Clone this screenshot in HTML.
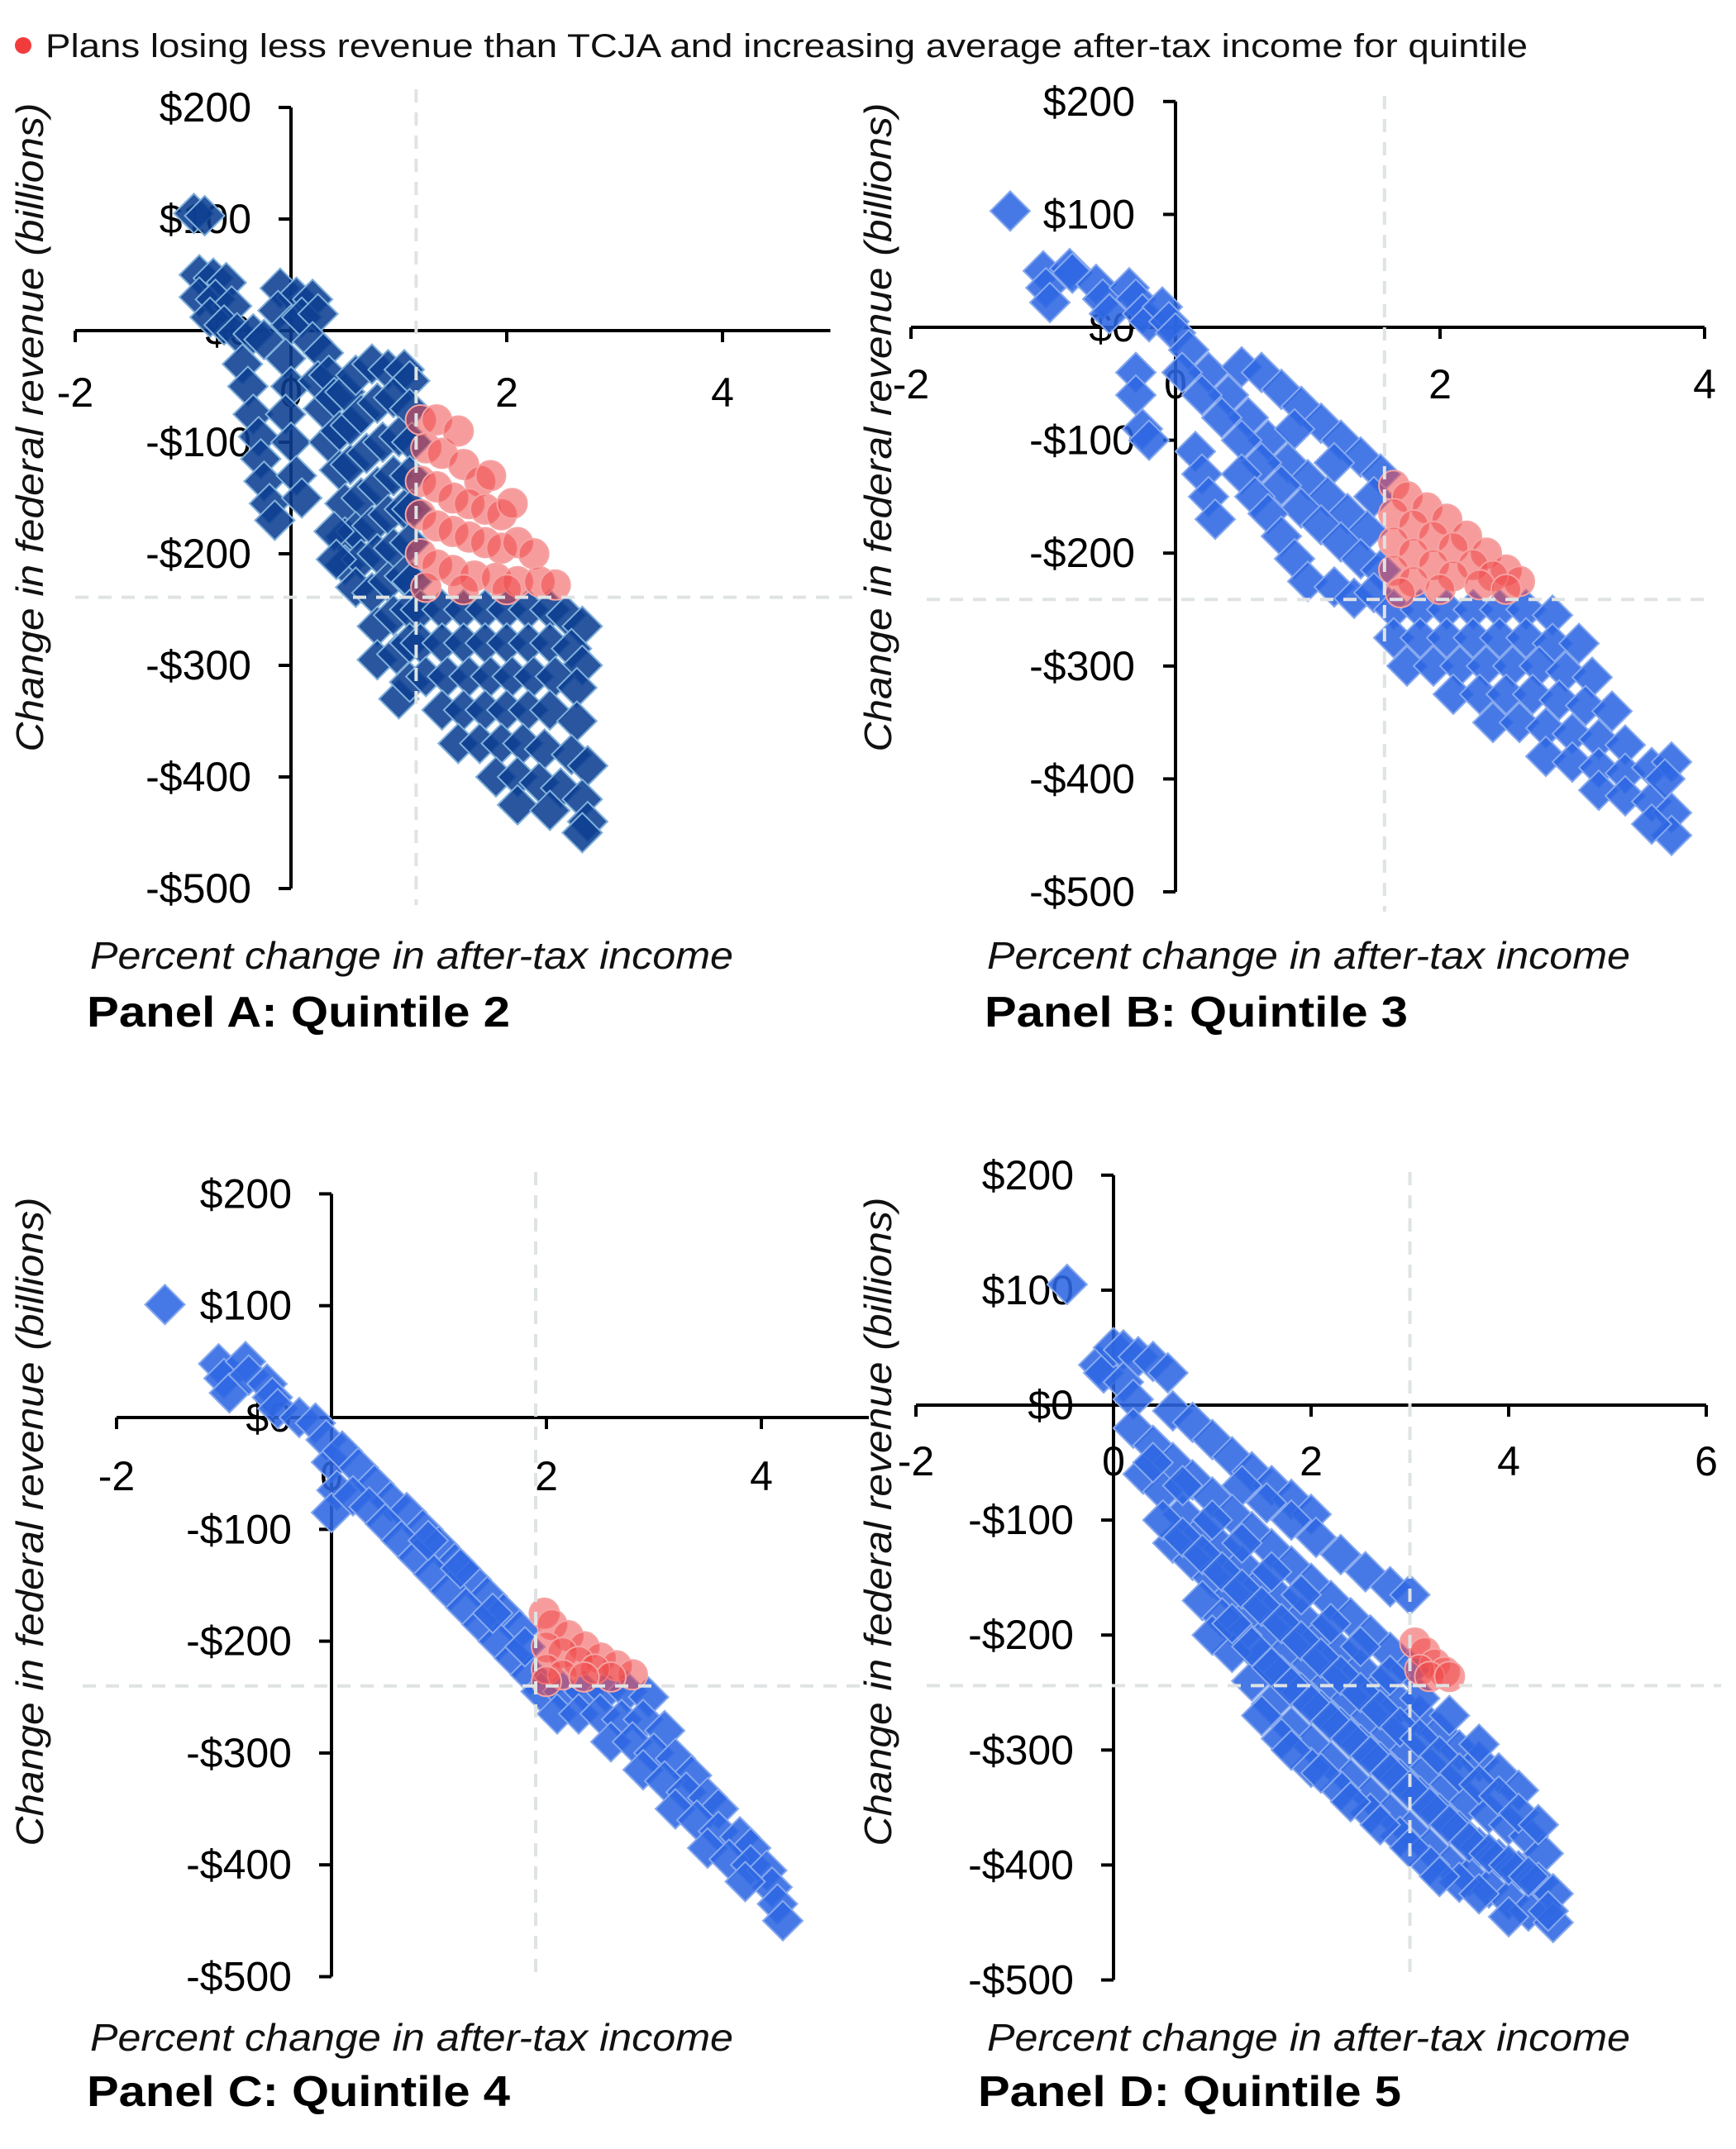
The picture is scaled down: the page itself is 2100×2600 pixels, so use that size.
<!DOCTYPE html>
<html><head><meta charset="utf-8"><style>
html,body{margin:0;padding:0;background:#fff;}
svg{display:block;font-family:"Liberation Sans",sans-serif;}
</style></head><body>
<svg id="chart" width="2100" height="2600" viewBox="0 0 2100 2600" xmlns="http://www.w3.org/2000/svg">
<g>
<circle cx="28" cy="55" r="10" fill="#f23c3c"/>
<text x="55" y="69" font-size="40" fill="#111" textLength="1793" lengthAdjust="spacingAndGlyphs">Plans losing less revenue than TCJA and increasing average after-tax income for quintile</text>
</g>
</svg>
<script>
// ---- data (x = % change in after-tax income, y = change in revenue, $B) ----
const yTicks = [200,100,0,-100,-200,-300,-400,-500];
const yTickLabels = ["$200","$100","$0","-$100","-$200","-$300","-$400","-$500"];
const xTicksA = [-2,0,2,4];
const xTicksB = [-2,0,2,4];
const xTicksC = [-2,0,2,4];
const xTicksD = [-2,0,2,4,6];
const thresholdX = [1.16, 1.58, 1.9, 3.0];
const thresholdY = [-239, -241, -240, -244];

const blueA = [[-0.9,105],[-0.8,103],[-0.85,50],[-0.72,47],[-0.6,43],[-0.85,30],[-0.7,28],[-0.55,22],[-0.75,12],[-0.62,5],[-0.5,-2],[-0.35,-3],[-0.25,-8],
[-0.1,38],[0.05,30],[0.2,28],[-0.12,18],[0,5],[0.1,12],[0.25,15],
[-0.45,-30],[-0.4,-50],[-0.35,-75],[-0.3,-95],[-0.28,-115],[-0.25,-135],[-0.2,-155],[-0.15,-170],
[-0.05,-25],[0,-50],[-0.05,-75],[0,-100],[0.05,-130],[0.1,-150],
[0.2,-10],[0.3,-20],[0.25,-45],[0.35,-40],[0.3,-70],[0.4,-60],[0.5,-55],[0.6,-40],[0.75,-30],[0.9,-35],[1.05,-35],[1.1,-45],
[0.35,-100],[0.45,-90],[0.55,-85],[0.65,-75],[0.8,-65],[0.95,-60],[1.1,-70],
[0.45,-125],[0.55,-120],[0.7,-110],[0.85,-100],[1.0,-95],[1.12,-100],
[0.5,-155],[0.65,-150],[0.8,-140],[0.95,-130],[1.1,-130],
[0.5,-185],[0.6,-180],[0.75,-175],[0.9,-165],[1.05,-160],[1.12,-160],
[0.5,-210],[0.65,-205],[0.8,-200],[0.95,-195],[1.1,-190],
[0.6,-230],[0.75,-235],[0.9,-225],[1.05,-220],[1.12,-225],
[0.8,-265],[0.95,-255],[1.1,-250],[0.8,-295],[0.98,-290],[1.1,-280],[1.0,-330],[1.1,-315],[0.4,-180],[0.42,-205],
[1.2,-250],[1.4,-250],[1.6,-250],[1.8,-250],[2.0,-250],[2.2,-250],[2.4,-250],[2.55,-255],[2.7,-265],
[1.2,-280],[1.4,-280],[1.6,-280],[1.8,-280],[2.0,-280],[2.2,-280],[2.4,-280],[2.6,-285],[2.7,-300],
[1.25,-310],[1.45,-310],[1.65,-310],[1.85,-310],[2.05,-310],[2.25,-310],[2.45,-310],[2.65,-320],
[1.4,-340],[1.6,-340],[1.8,-340],[2.0,-340],[2.2,-340],[2.4,-340],[2.65,-350],
[1.55,-370],[1.75,-370],[1.95,-370],[2.15,-370],[2.35,-375],[2.6,-380],[2.75,-390],
[1.9,-400],[2.1,-400],[2.3,-405],[2.5,-410],[2.7,-420],[2.1,-425],[2.4,-430],[2.75,-440],[2.7,-450]];
const redA = [[1.2,-80],[1.35,-80],[1.25,-105],[1.4,-110],[1.55,-90],[1.6,-120],[1.75,-135],[1.85,-130],[1.2,-135],[1.35,-140],[1.5,-150],[1.65,-155],[1.8,-160],[1.95,-165],[2.05,-155],[1.2,-165],[1.35,-175],[1.5,-180],[1.65,-185],[1.8,-190],[1.95,-195],[2.1,-190],[2.25,-200],[1.2,-200],[1.35,-210],[1.5,-215],[1.7,-220],[1.9,-222],[2.1,-225],[2.3,-225],[2.45,-228],[1.25,-230],[1.6,-232],[2.0,-232]];

const blueB = [[-1.25,103],[-1.0,50],[-0.98,35],[-0.95,22],[-0.8,52],[-0.78,48],[-0.6,38],[-0.55,25],[-0.5,12],[-0.35,35],[-0.3,25],[-0.25,12],[-0.2,5],[-0.1,18],[-0.05,5],[0,-5],[-0.3,-40],[-0.3,-60],[-0.25,-90],[-0.2,-100],
[0.1,-20],[0.25,-40],[0.4,-60],[0.55,-80],[0.7,-100],[0.85,-120],[1.0,-135],[1.15,-150],[1.3,-165],[1.45,-180],
[0.05,-40],[0.2,-60],[0.35,-80],[0.5,-100],[0.65,-120],[0.8,-140],[0.95,-160],[1.1,-175],[1.25,-190],[1.4,-205],[1.55,-215],
[0.15,-110],[0.2,-130],[0.25,-150],[0.3,-170],
[0.5,-130],[0.6,-150],[0.7,-165],[0.8,-185],[0.9,-205],[1.0,-225],[1.2,-230],[1.35,-240],[1.5,-235],
[0.5,-35],[0.65,-40],[0.8,-55],[0.95,-70],[1.1,-85],[1.25,-100],[1.4,-115],[1.55,-130],[1.5,-150],[1.2,-120],[0.9,-90],
[1.65,-250],[1.85,-250],[2.05,-250],[2.25,-250],[2.45,-250],[2.65,-250],[2.85,-255],
[1.65,-275],[1.85,-275],[2.05,-275],[2.25,-275],[2.45,-275],[2.65,-275],[2.85,-280],[3.05,-280],
[1.75,-300],[1.95,-300],[2.15,-300],[2.35,-300],[2.55,-300],[2.75,-300],[2.95,-305],[3.15,-310],
[2.1,-325],[2.3,-325],[2.5,-325],[2.7,-325],[2.9,-330],[3.1,-335],[3.3,-340],
[2.4,-350],[2.6,-350],[2.8,-355],[3.0,-360],[3.2,-365],[3.4,-370],
[2.8,-380],[3.0,-385],[3.2,-390],[3.4,-395],[3.6,-390],[3.75,-385],
[3.2,-410],[3.4,-415],[3.6,-420],[3.75,-430],[3.75,-450],[3.6,-440],[3.7,-400]];
const redB = [[1.65,-140],[1.75,-150],[1.9,-160],[2.05,-170],[2.2,-185],[2.35,-200],[2.5,-215],[2.6,-225],[1.65,-165],[1.8,-175],[1.95,-185],[2.1,-195],[2.25,-210],[2.4,-220],[1.65,-190],[1.8,-200],[1.95,-210],[2.1,-220],[2.3,-228],[1.65,-215],[1.8,-225],[2.0,-232],[2.5,-232],[1.7,-235]];

const blueC = [[-1.55,101],[-1.05,48],[-1.0,35],[-0.95,22],[-0.8,50],[-0.77,38],[-0.6,30],[-0.55,18],[-0.5,8],[-0.3,0],[-0.15,-5],[-0.05,-20],[0,-40],[0.05,-65],[0,-85],
[0.1,-30],[0.25,-45],[0.4,-60],[0.55,-75],[0.7,-85],[0.85,-100],[1.0,-115],[1.15,-130],[1.3,-145],[1.45,-160],[1.6,-175],[1.75,-190],
[0.2,-70],[0.35,-80],[0.5,-95],[0.65,-110],[0.8,-125],[0.95,-140],[1.1,-155],[1.25,-170],[1.4,-185],[1.55,-200],[1.7,-215],[1.85,-230],
[0.9,-110],[1.2,-135],[1.5,-175],[1.8,-205],
[1.95,-245],[2.15,-245],[2.35,-245],[2.55,-245],[2.75,-245],[2.95,-250],
[2.1,-265],[2.3,-265],[2.5,-265],[2.7,-270],[2.9,-270],[3.1,-280],
[2.6,-290],[2.8,-290],[3.0,-300],[3.2,-305],[3.35,-320],
[2.9,-315],[3.1,-325],[3.3,-335],[3.5,-340],[3.6,-350],
[3.2,-350],[3.4,-360],[3.6,-370],[3.8,-375],[3.9,-385],
[3.5,-385],[3.7,-395],[3.9,-400],[4.05,-405],[4.1,-420],[3.85,-415],[4.15,-435],[4.2,-450]];
const redC = [[1.98,-175],[2.05,-185],[2.2,-195],[2.35,-205],[2.5,-215],[2.65,-222],[2.8,-230],[2.0,-205],[2.15,-210],[2.3,-218],[2.45,-225],[2.0,-225],[2.15,-230],[2.6,-232],[2.35,-232],[2.0,-236]];

const blueD = [[-0.47,105],[-0.15,35],[-0.1,28],[0,50],[0.1,48],[0.25,42],[0.4,38],[0.55,28],[0.1,20],[0.2,5],
[0.6,-5],[0.8,-15],[1.0,-30],[1.2,-45],[1.4,-58],[1.6,-70],[1.8,-82],[2.0,-95],
[1.3,-70],[1.55,-85],[1.8,-100],[2.05,-115],[2.3,-130],[2.55,-145],[2.8,-158],[3.0,-165],
[0.2,-20],[0.4,-35],[0.6,-50],[0.8,-65],[1.0,-80],[1.2,-95],[1.4,-110],[1.6,-125],[1.8,-140],[2.0,-155],[2.2,-170],[2.4,-185],[2.6,-200],[2.8,-215],[3.0,-230],
[0.3,-60],[0.5,-75],[0.7,-95],[0.9,-110],[1.1,-125],[1.3,-140],[1.5,-155],[1.7,-170],[1.9,-185],[2.1,-200],[2.3,-215],[2.5,-230],[2.7,-245],[2.9,-260],[3.1,-270],[3.3,-285],[3.5,-300],[3.7,-310],[3.9,-320],[4.1,-335],
[0.6,-120],[0.8,-135],[1.0,-150],[1.2,-165],[1.4,-180],[1.6,-195],[1.8,-210],[2.0,-225],[2.2,-240],[2.4,-255],[2.6,-270],[2.8,-285],[3.0,-300],[3.2,-315],[3.4,-330],[3.6,-345],[3.8,-355],[4.0,-365],[4.2,-375],[4.35,-390],
[0.9,-170],[1.1,-185],[1.3,-200],[1.5,-220],[1.7,-235],[1.9,-250],[2.1,-265],[2.3,-280],[2.5,-295],[2.7,-310],[2.9,-325],[3.1,-340],[3.3,-355],[3.5,-370],[3.7,-385],[3.9,-395],[4.1,-405],[4.3,-415],[4.45,-425],
[1.2,-215],[1.4,-240],[1.6,-260],[1.8,-280],[2.0,-295],[2.2,-310],[2.4,-325],[2.6,-340],[2.8,-355],[3.0,-370],[3.2,-385],[3.4,-400],[3.6,-410],[3.8,-420],[4.0,-430],[4.2,-440],[4.45,-450],
[1.7,-290],[2.0,-315],[2.3,-335],[2.6,-355],[2.9,-375],[3.2,-400],[3.5,-415],
[0.5,-100],[0.7,-115],[0.9,-130],[1.1,-145],[1.3,-160],[1.5,-175],[1.7,-190],[1.9,-205],[2.1,-220],[2.3,-235],[2.5,-250],[2.7,-265],[2.9,-280],[3.1,-290],[3.3,-305],[3.5,-320],[3.7,-330],[3.9,-340],[4.1,-355],[4.3,-365],
[1.0,-200],[1.2,-190],[1.4,-210],[1.6,-228],[1.8,-245],[2.0,-260],[2.2,-275],[2.4,-290],[2.6,-305],[2.8,-320],[3.0,-335],[3.2,-350],[3.4,-365],[3.6,-380],[3.8,-390],[4.0,-400],[4.2,-410],[4.4,-440],
[1.5,-270],[1.8,-300],[2.1,-320],[2.4,-345],[2.7,-365],[3.0,-385],[3.3,-410],[3.7,-425],[4.0,-445],
[0.4,-50],[0.7,-70],[1.0,-100],[1.3,-120],[1.6,-145],[1.9,-165],[2.2,-190],[2.5,-210],[2.8,-235],[3.1,-255],[3.4,-270],[3.7,-295]];
const redD = [[3.05,-207],[3.15,-215],[3.25,-225],[3.35,-232],[3.1,-230],[3.2,-236],[3.4,-236]];

const panelTitles = ["Panel A: Quintile 2","Panel B: Quintile 3","Panel C: Quintile 4","Panel D: Quintile 5"];

// ---- layout ----
const NS = "http://www.w3.org/2000/svg";
const svg = document.getElementById('chart');
function mk(tag, attrs, parent){ const e=document.createElementNS(NS,tag); for(const k in attrs) e.setAttribute(k,attrs[k]); (parent||svg).appendChild(e); return e; }

const panels = [
 {ox:352, oy:400, xu:130.5, yu:1.35, xmin:-2, xmax:5.0, ticks:xTicksA, labR:304, xlabY:492, ytX:36, ytY:517, xtX:109, xtY:1172, ttY:1242, ttX:105, blue:blueA, red:redA, fill:"#0c3f92", stroke:"#7fb0da", dash:[108,1095,91,1037]},
 {ox:1422, oy:396, xu:160, yu:1.366, xmin:-2, xmax:4.0, ticks:xTicksB, labR:1373, xlabY:482, ytX:1062, ytY:517, xtX:1194, xtY:1172, ttY:1242, ttX:1191, blue:blueB, red:redB, fill:"#2d66e2", stroke:"#86a9ef", dash:[116,1103,1121,2073]},
 {ox:401, oy:1715, xu:130, yu:1.353, xmin:-2, xmax:5.0, ticks:xTicksC, labR:353, xlabY:1803, ytX:36, ytY:1841, xtX:109, xtY:2481, ttY:2548, ttX:105, blue:blueC, red:redC, fill:"#2d66e2", stroke:"#86a9ef", dash:[1418,2389,100,1078]},
 {ox:1347, oy:1700, xu:119.5, yu:1.391, xmin:-2, xmax:6.0, ticks:xTicksD, labR:1299, xlabY:1785, ytX:1062, ytY:1841, xtX:1194, xtY:2481, ttY:2548, ttX:1183, blue:blueD, red:redD, fill:"#2d66e2", stroke:"#86a9ef", dash:[1418,2389,1121,2082]}
];

panels.forEach((p,i)=>{
  const X = v => p.ox + v*p.xu;
  const Y = v => p.oy - v*p.yu;
  const g = mk('g',{});
  
  
  const xa = mk('line',{x1:X(p.xmin),x2:X(p.xmax),y1:p.oy,y2:p.oy,stroke:"#000","stroke-width":4},g);
  
  
  const ya = mk('line',{x1:p.ox,x2:p.ox,y1:Y(200),y2:Y(-500),stroke:"#000","stroke-width":4},g);
  
  
  yTicks.forEach((t,j)=>{
    const tk = mk('line',{x1:p.ox-15,x2:p.ox,y1:Y(t),y2:Y(t),stroke:"#000","stroke-width":4},g);
    
    
    const tl = mk('text',{x:p.labR,y:Y(t)+17,"font-size":50,"text-anchor":"end",fill:"#000"},g);
    tl.textContent = yTickLabels[j];
    
    
  });
  p.ticks.forEach(t=>{
    const tk = mk('line',{x1:X(t),x2:X(t),y1:p.oy,y2:p.oy+14,stroke:"#000","stroke-width":4},g);
    
    
    const tl = mk('text',{x:X(t),y:p.xlabY,"font-size":50,"text-anchor":"middle",fill:"#000"},g);
    tl.textContent = String(t);
    
    
  });
  p.blue.forEach(d=>{
    const cx=X(d[0]), cy=Y(d[1]), r=24;
    const m = mk('polygon',{points:`${cx},${cy-r} ${cx+r},${cy} ${cx},${cy+r} ${cx-r},${cy}`,fill:p.fill,"fill-opacity":0.88,stroke:p.stroke,"stroke-width":2},g);
    
    
  });
  p.red.forEach(d=>{
    const m = mk('circle',{cx:X(d[0]),cy:Y(d[1]),r:18,fill:"#f04a4a","fill-opacity":0.55,stroke:"#f6a3a3","stroke-width":2},g);
    
    
  });
  const vx = X(thresholdX[i]), hy = Y(thresholdY[i]);
  const vl = mk('line',{x1:vx,x2:vx,y1:p.dash[0],y2:p.dash[1],stroke:"#dfe3e3","stroke-width":4,"stroke-dasharray":"16 12"},g);
  
  
  const hl = mk('line',{x1:p.dash[2],x2:p.dash[3],y1:hy,y2:hy,stroke:"#dfe3e3","stroke-width":4,"stroke-dasharray":"16 12"},g);
  
  
  const yt = mk('text',{x:0,y:0,"font-size":46,"font-style":"italic","text-anchor":"middle",fill:"#111",transform:`translate(${p.ytX+16},${p.ytY}) rotate(-90)`,textLength:785,lengthAdjust:"spacingAndGlyphs"},g);
  yt.textContent = "Change in federal revenue (billions)";
  
  
  const xt = mk('text',{x:p.xtX,y:p.xtY,"font-size":46,"font-style":"italic",fill:"#111",textLength:778,lengthAdjust:"spacingAndGlyphs"},g);
  xt.textContent = "Percent change in after-tax income";
  
  
  const tt = mk('text',{x:p.ttX,y:p.ttY,"font-size":52,"font-weight":"bold",fill:"#000",textLength:512,lengthAdjust:"spacingAndGlyphs"},g);
  tt.textContent = panelTitles[i];
  
  
});
</script>
</body></html>
